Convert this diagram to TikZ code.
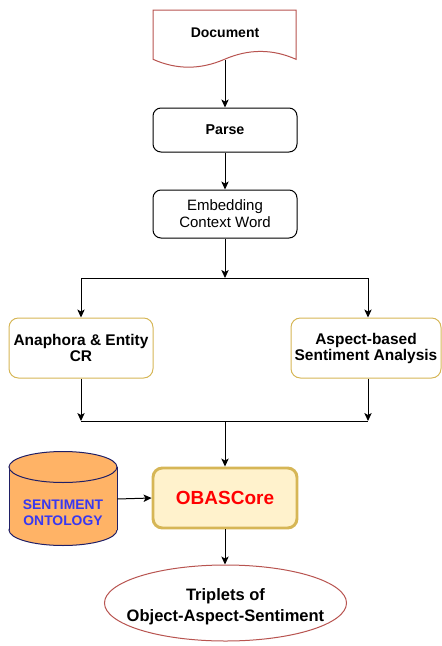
\documentclass[tikz,border=0pt]{standalone}
\usepackage{fontspec}
\setmainfont{Liberation Sans}
\usetikzlibrary{arrows.meta,shapes.geometric}

\definecolor{docred}{HTML}{B85450}
\definecolor{goldline}{HTML}{D6B656}
\definecolor{goldfill}{HTML}{FFF2CC}
\definecolor{cylfill}{HTML}{FFB366}
\definecolor{cylline}{HTML}{1F1F66}
\definecolor{cyltext}{HTML}{3838F0}

\tikzset{
  x=0.75pt, y=-0.75pt,
  flow/.style={draw=black, line width=0.75pt, -{Stealth[length=6pt,width=5.5pt,inset=1.5pt]}},
  plainline/.style={draw=black, line width=0.75pt},
  stepbox/.style={draw=black, line width=0.75pt, rounded corners=6pt, fill=white,
    minimum width=108pt, align=center, inner sep=0pt},
  goldbox/.style={draw=goldline, line width=0.75pt, rounded corners=7pt, fill=white,
    minimum height=45pt, align=center, inner sep=0pt,
    font=\bfseries\fontsize{11.6}{12}\selectfont},
  corebox/.style={draw=goldline, line width=2.2pt, rounded corners=7pt, fill=goldfill,
    minimum width=108pt, minimum height=45pt, inner sep=0pt,
    font=\bfseries\fontsize{14.25}{16}\selectfont, text=red},
  bare/.style={inner sep=0pt, align=center},
}

\begin{document}
\begin{tikzpicture}
\useasboundingbox (0,0) rectangle (442,646);

% Document shape with a wavy lower edge
\draw[docred, line width=0.75pt, fill=white]
  (153,10) -- (296,10) -- (296,59.3)
  .. controls (272.5,48.8) and (248.7,48.8) .. (224.5,59.3)
  .. controls (200.3,69.8) and (176.5,69.8) .. (153,59.3) -- cycle;
\node[bare, font=\bfseries\fontsize{10.5}{12}\selectfont] (doc) at (225,32.5) {Document};
\coordinate (docbot) at (225,60);

% Processing steps
\node[stepbox, minimum height=33pt, font=\bfseries\fontsize{10.7}{12}\selectfont]
  (parse) at (225,130) {Parse};
\node[stepbox, minimum height=36pt, font=\fontsize{11.25}{12.75}\selectfont]
  (emb) at (225,214) {Embedding\\Context Word};

% Two parallel analyses
\node[goldbox, minimum width=108pt] (ana) at (81,348) {Anaphora \& Entity\\CR};
\node[goldbox, minimum width=112.5pt] (asp) at (366,348) {Aspect-based\\Sentiment Analysis};

% Split and join points
\coordinate (split) at (225,278);
\coordinate (splitL) at (81,278);
\coordinate (splitR) at (368,278);
\coordinate (join) at (225,421);
\coordinate (joinL) at (81,421);
\coordinate (joinR) at (368,421);

% Core model
\node[corebox] (core) at (225,498) {OBASCore};

% Sentiment ontology drum
\draw[cylline, line width=0.75pt, fill=cylfill] (63,530) ellipse [x radius=54, y radius=15.5];
\fill[cylfill] (9,467) rectangle (117,530);
\draw[cylline, line width=0.75pt] (9,467) -- (9,530) (117,467) -- (117,530);
\draw[cylline, line width=0.75pt, fill=cylfill] (63,467) ellipse [x radius=54, y radius=15.5];
\node[bare, minimum width=81pt, minimum height=70pt] (onto) at (63,499) {};
\node[bare, text=cyltext, font=\bfseries\fontsize{10.4}{12}\selectfont] (ontotext) at (63,513)
  {SENTIMENT\\ONTOLOGY};

% Output
\node[draw=docred, line width=0.75pt, ellipse, fill=white, minimum width=181.5pt,
  minimum height=57pt, inner sep=0pt] (out) at (225.5,603) {};
\node[bare, font=\bfseries\fontsize{12.4}{15.75}\selectfont] (outtext) at (225.5,607)
  {Triplets of\\Object-Aspect-Sentiment};

% Connectors
\draw[flow] (docbot) -- (parse.north);
\draw[flow] (parse.south) -- (emb.north);
\draw[flow] (emb.south) -- (split);
\draw[plainline] (splitL) -- (splitR);
\draw[flow] (splitL) -- (ana.north);
\draw[flow] (splitR) -- (splitR |- asp.north);
\draw[flow] (ana.south) -- (joinL);
\draw[flow] (joinR |- asp.south) -- (joinR);
\draw[plainline] (joinL) -- (joinR);
\draw[flow] (join) -- (core.north);
\draw[flow] (onto.east) -- (core.west);
\draw[flow] (core.south) -- (core.south |- out.north);
\end{tikzpicture}
\end{document}
